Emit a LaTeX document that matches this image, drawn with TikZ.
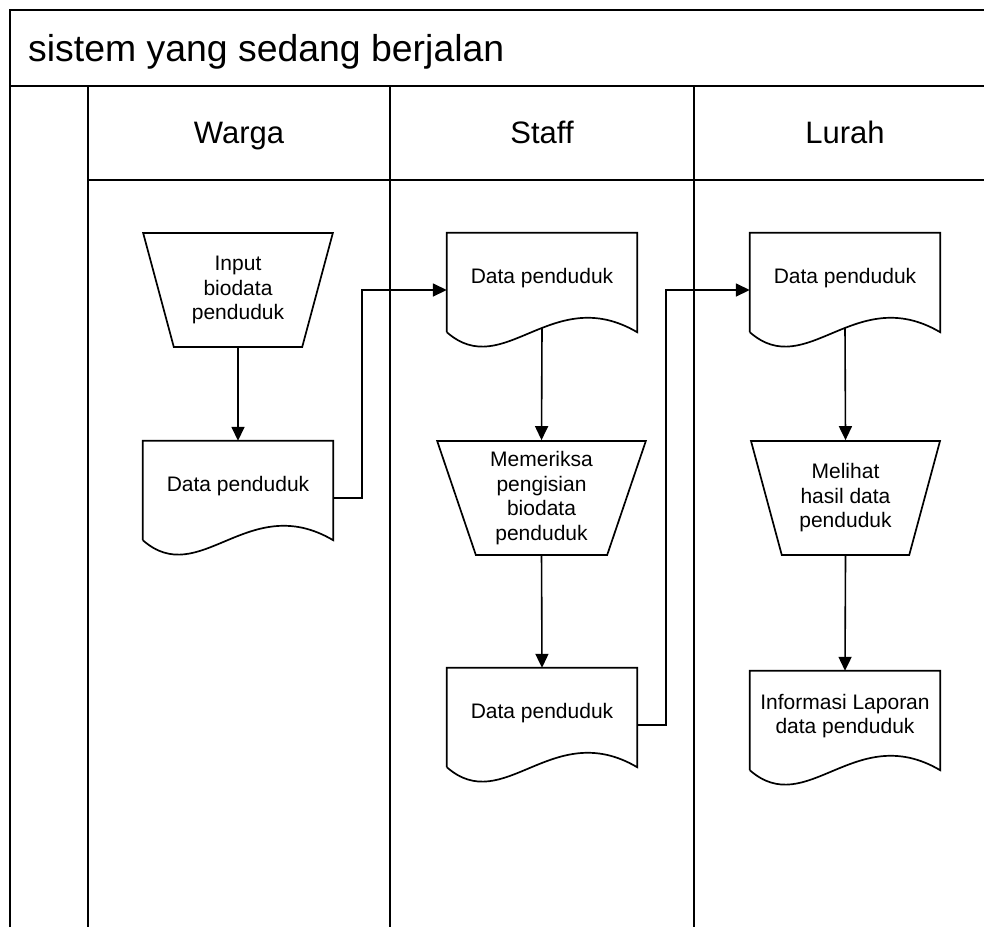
\documentclass[tikz,border=0pt]{standalone}
\usepackage{fontspec}
\setmainfont{Liberation Sans}
\usetikzlibrary{arrows.meta,shapes.geometric}

\newcommand{\docoutline}[1]{%
  \coordinate (#1-l) at ([yshift=-9pt]#1.south west);
  \coordinate (#1-r) at ([yshift=-9pt]#1.south east);
  \draw[shapeline] (#1-l) -- (#1.north west) -- (#1.north east) -- (#1-r)
    .. controls ([xshift=-85pt,yshift=50pt]#1-r) and ([xshift=57pt,yshift=-50pt]#1-l) .. (#1-l);
}

\begin{document}
\begin{tikzpicture}[x=1pt,y=-1pt,
  frame/.style={line width=2pt},
  shapeline/.style={line width=1.7pt},
  body/.style={font=\fontsize{21}{24.5}\selectfont,align=center,inner sep=0pt},
  docbox/.style={body,minimum width=190pt,minimum height=90pt},
  manual/.style={body,draw,line width=1.7pt,trapezium,shape border rotate=180,
    trapezium left angle=72,trapezium right angle=72,trapezium stretches=true,
    minimum height=114pt},
  lane/.style={anchor=base,font=\fontsize{31}{34}\selectfont},
  flow/.style={line width=1.6pt,-{Triangle[length=14pt,width=13pt]}}]
  \useasboundingbox (0,0) rectangle (984,927);

  \draw[frame] (10,927) -- (10,10) -- (984,10);
  \draw[frame] (10,86) -- (984,86);
  \draw[frame] (88,180) -- (984,180);
  \draw[frame] (88,86) -- (88,927);
  \draw[frame] (390,86) -- (390,927);
  \draw[frame] (694,86) -- (694,927);

  \node[anchor=base west,inner sep=0pt,font=\fontsize{37.4}{40}\selectfont] (title) at (28,61) {sistem yang sedang berjalan};
  \node[lane] (wlane) at (239,143) {Warga};
  \node[lane] (slane) at (542,143) {Staff};
  \node[lane] (llane) at (845,143) {Lurah};

  \node[manual,minimum width=190pt] (wtrap) at (238,290) {Input\\biodata\\penduduk};
  \node[docbox] (wdoc) at (238,486) {Data penduduk};
  \docoutline{wdoc}

  \node[docbox] (sdoc1) at (542,278) {Data penduduk};
  \docoutline{sdoc1}
  \node[manual,minimum width=209pt] (strap) at (541.5,498) {Memeriksa\\pengisian\\biodata\\penduduk};
  \node[docbox] (sdoc2) at (542,713) {Data penduduk};
  \docoutline{sdoc2}

  \node[docbox] (ldoc1) at (845,278) {Data penduduk};
  \docoutline{ldoc1}
  \node[manual,minimum width=189pt] (ltrap) at (845.5,498) {Melihat\\hasil data\\penduduk};
  \node[docbox] (ldoc2) at (845,716) {Informasi Laporan\\data penduduk};
  \docoutline{ldoc2}

  \draw[flow] (wtrap.south) -- (wdoc.north);
  \draw[flow] ([yshift=-12pt]wdoc.east) -- ++(29,0) |- ([yshift=-12pt]sdoc1.west);
  \draw[flow] ([yshift=-5pt]sdoc1.south) -- (strap.north);
  \draw[flow] (strap.south) -- (sdoc2.north);
  \draw[flow] ([yshift=-12pt]sdoc2.east) -- ++(29,0) |- ([yshift=-12pt]ldoc1.west);
  \draw[flow] ([yshift=-5pt]ldoc1.south) -- (ltrap.north);
  \draw[flow] (ltrap.south) -- (ldoc2.north);
\end{tikzpicture}
\end{document}
